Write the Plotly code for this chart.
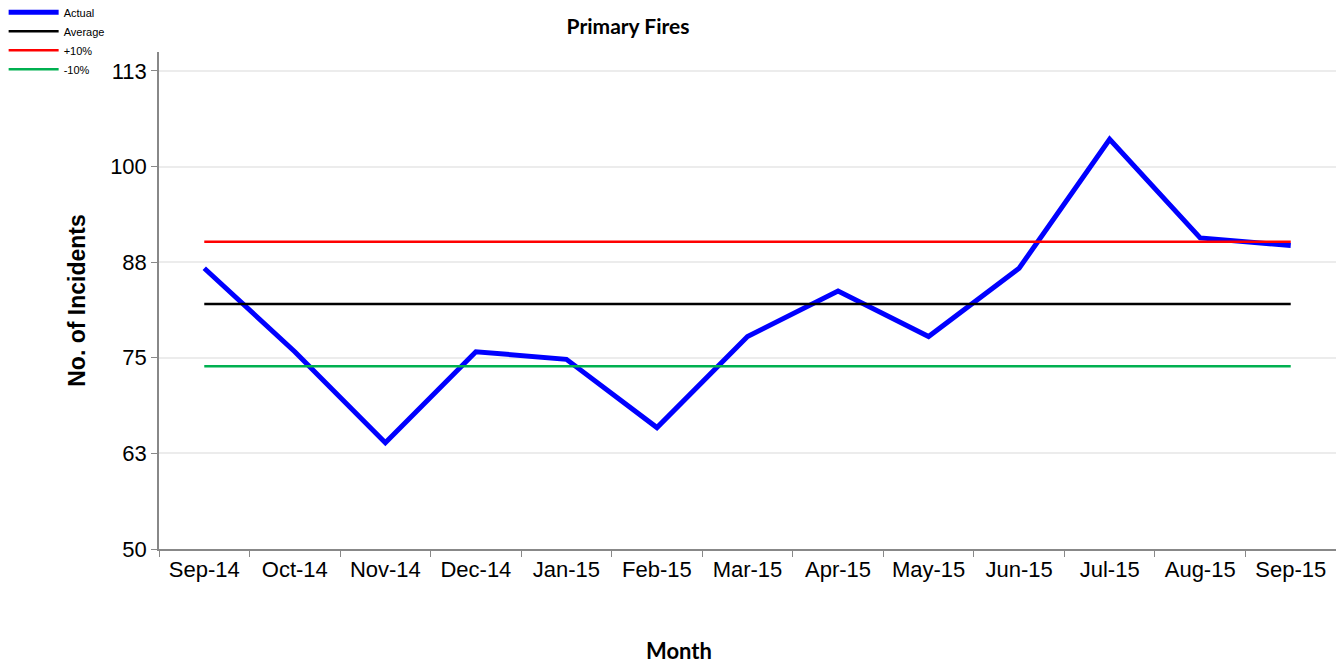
import plotly.graph_objects as go

months = ["Sep-14", "Oct-14", "Nov-14", "Dec-14", "Jan-15", "Feb-15", "Mar-15",
          "Apr-15", "May-15", "Jun-15", "Jul-15", "Aug-15", "Sep-15"]
actual = [87, 76, 64, 76, 75, 66, 78, 84, 78, 87, 104, 91, 90]
average = [82.3] * 13
plus10 = [90.5] * 13
minus10 = [74.1] * 13

y_tickvals = [50, 62.6, 75.2, 87.8, 100.4, 113]
y_ticktext = ["50", "63", "75", "88", "100", "113"]

fig = go.Figure()
fig.add_trace(go.Scatter(x=months, y=actual, mode="lines", name="Actual",
                         line=dict(color="#0000ff", width=5)))
fig.add_trace(go.Scatter(x=months, y=average, mode="lines", name="Average",
                         line=dict(color="#000000", width=2.5)))
fig.add_trace(go.Scatter(x=months, y=plus10, mode="lines", name="+10%",
                         line=dict(color="#ff0000", width=2.5)))
fig.add_trace(go.Scatter(x=months, y=minus10, mode="lines", name="-10%",
                         line=dict(color="#00b050", width=2.5)))

axis_font = dict(family="Liberation Sans, Arial, sans-serif", size=22, color="#000000")
cal_font = "Lato, Open Sans, sans-serif"

W, H = 1328, 656
ML, MR, MT, MB = 151, 0, 44, 115
plot_w = W - ML - MR
plot_h = H - MT - MB

fig.update_layout(
    width=W, height=H,
    paper_bgcolor="white", plot_bgcolor="white",
    margin=dict(l=ML, r=MR, t=MT, b=MB, autoexpand=False),
    title=dict(text="<b>Primary Fires</b>", x=620 / W, xanchor="center", xref="container",
               y=1 - 19 / H, yanchor="middle",
               font=dict(family=cal_font, size=21, color="#000000")),
    showlegend=True,
    legend=dict(x=-0.132, y=1.109, xref="paper", yref="paper",
                xanchor="left", yanchor="top",
                font=dict(family="Liberation Sans, Arial, sans-serif", size=11, color="#000000"),
                bgcolor="rgba(0,0,0,0)", tracegroupgap=0, itemwidth=50,
                traceorder="normal"),
    xaxis=dict(
        type="category", range=[-0.5, 12.5], automargin=False,
        tickson="boundaries", ticks="outside", ticklen=6, tickcolor="#888888",
        showline=True, linecolor="#888888", linewidth=1.5,
        showgrid=False, zeroline=False,
        tickfont=axis_font,
    ),
    yaxis=dict(
        range=[50, 115.5], tickvals=y_tickvals, ticktext=y_ticktext, automargin=False,
        ticks="outside", ticklen=6, tickcolor="#888888",
        showline=True, linecolor="#888888", linewidth=1.5,
        showgrid=True, gridcolor="#ececec", gridwidth=1.5, zeroline=False,
        tickfont=axis_font,
        title=dict(text="<b>No. of Incidents</b>", standoff=18,
                   font=dict(family="Liberation Sans, Arial, sans-serif", size=23, color="#000000")),
    ),
    annotations=[dict(
        text="<b>Month</b>", showarrow=False,
        xref="paper", yref="paper",
        x=(671 - ML) / plot_w, y=(H - MB - 642) / plot_h,
        xanchor="center", yanchor="middle",
        font=dict(family=cal_font, size=22, color="#000000"),
    )],
)

fig.write_html("out.html")
